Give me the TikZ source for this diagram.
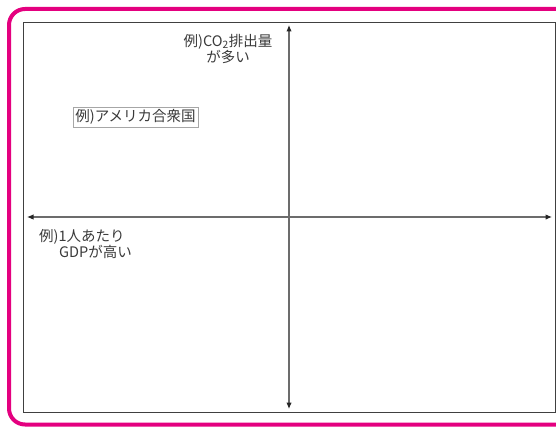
\documentclass[tikz,border=0pt]{standalone}
\usepackage{fontspec}
\setmainfont{Noto Sans CJK JP}
\usetikzlibrary{arrows.meta}
\definecolor{pinkframe}{HTML}{E4007F}
\definecolor{txt}{HTML}{3A3A3A}
\tikzset{
  axis/.style={draw=gray!85!black, line width=1.1pt, {Latex[length=6.5pt,width=5.5pt,color=black!85]}-{Latex[length=6.5pt,width=5.5pt,color=black!85]}},
  lbl/.style={text=txt, font=\fontsize{14.5}{15}\selectfont, inner sep=0pt, align=center},
  exbox/.style={draw=gray!70, line width=0.8pt, text=txt, font=\fontsize{14.5}{15}\selectfont, inner xsep=2.5pt, inner ysep=2.5pt}
}
\begin{document}
\begin{tikzpicture}[x=1pt,y=-1pt]
\useasboundingbox (0,0) rectangle (556,428);
\begin{scope}
\clip (0,0) rectangle (556,428);
\draw[pinkframe, line width=4pt, rounded corners=16pt] (9,9) rectangle (600,424.5);
\end{scope}
\draw[black!75, line width=0.9pt] (23,22) rectangle (555,412);
\coordinate (top) at (289,25);
\coordinate (bot) at (289,409);
\coordinate (lft) at (27,217);
\coordinate (rgt) at (552,217);
\draw[axis] (bot) -- (top);
\draw[axis] (lft) -- (rgt);
\node[lbl, anchor=north] (co2) at (228,34) {例)CO\textsubscript{2}排出量\\が多い};
\node[exbox] (usa) at (135.5,117) {例)アメリカ合衆国};
\node[lbl, anchor=north west, align=left] (gdp) at (39,229.5) {例)1人あたり\\\hspace{20pt}GDPが高い};
\end{tikzpicture}
\end{document}
